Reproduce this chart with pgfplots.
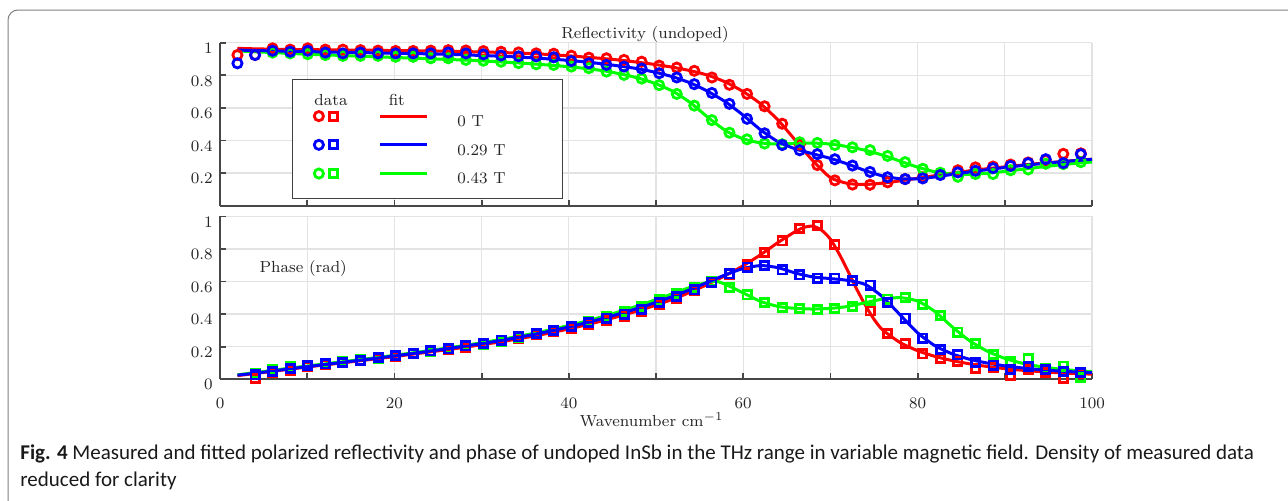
\documentclass[border=0pt]{standalone}
\usepackage{fontspec}
\usepackage{pgfplots}
\usepackage{pgfplotstable}
\pgfplotsset{compat=1.18}
\newfontfamily\capfont{Carlito}
\newcommand\fs{\fontsize{8}{9.6}\selectfont}
\definecolor{cR}{RGB}{255,0,0}
\definecolor{cB}{RGB}{0,0,255}
\definecolor{cG}{RGB}{0,255,0}

\pgfplotstableread{
x R G B
2.00 0.925 nan 0.874
4.02 0.925 nan 0.925
6.03 0.966 0.940 0.951
8.05 0.958 0.935 0.945
10.06 0.966 0.930 0.951
12.08 0.958 0.925 0.940
14.09 0.958 0.920 0.935
16.11 0.955 0.920 0.940
18.12 0.952 0.920 0.935
20.14 0.950 0.914 0.935
22.15 0.950 0.914 0.935
24.17 0.952 0.905 0.935
26.18 0.955 0.905 0.940
28.20 0.953 0.895 0.935
30.21 0.949 0.890 0.929
32.23 0.945 0.884 0.922
34.24 0.941 0.875 0.917
36.26 0.935 0.868 0.917
38.27 0.933 0.864 0.911
40.29 0.921 0.854 0.888
42.30 0.909 0.844 0.874
44.32 0.905 0.823 0.864
46.33 0.895 0.803 0.854
48.35 0.884 0.780 0.842
50.36 0.860 0.740 0.813
52.38 0.848 0.686 0.787
54.39 0.828 0.614 0.746
56.41 0.787 0.525 0.692
58.42 0.742 0.448 0.625
60.44 0.686 0.407 0.533
62.45 0.610 0.381 0.444
64.47 0.503 0.377 0.372
66.48 0.375 0.389 0.340
68.50 0.249 0.385 0.316
70.51 0.155 0.372 0.285
72.53 0.129 0.358 0.246
74.54 0.128 0.341 0.207
76.56 0.143 0.305 0.174
78.57 0.163 0.267 0.163
80.59 0.174 0.226 0.167
82.60 0.194 0.202 0.188
84.62 0.217 0.177 0.204
86.63 0.235 0.194 0.214
88.65 0.240 0.194 0.230
90.66 0.252 0.217 0.244
92.68 0.265 0.222 0.261
94.69 0.280 0.257 0.285
96.71 0.318 0.255 0.261
98.72 0.321 0.267 0.316
}\refldata

\pgfplotstableread{
x R G B
4.02 0.005 0.035 0.026
6.03 0.040 0.060 0.046
8.05 0.055 0.075 0.067
10.06 0.075 0.085 0.083
12.08 0.090 0.098 0.094
14.09 0.100 0.110 0.102
16.11 0.112 0.118 0.114
18.12 0.128 0.130 0.132
20.14 0.138 0.145 0.145
22.15 0.155 0.160 0.159
24.17 0.170 0.168 0.174
26.18 0.182 0.190 0.186
28.20 0.195 0.210 0.204
30.21 0.215 0.215 0.221
32.23 0.232 0.232 0.240
34.24 0.250 0.255 0.260
36.26 0.275 0.278 0.282
38.27 0.290 0.300 0.300
40.29 0.312 0.325 0.323
42.30 0.338 0.355 0.350
44.32 0.360 0.385 0.375
46.33 0.388 0.415 0.400
48.35 0.418 0.445 0.430
50.36 0.460 0.487 0.472
52.38 0.498 0.525 0.508
54.39 0.543 0.566 0.549
56.41 0.594 0.600 0.596
58.42 0.646 0.563 0.647
60.44 0.703 0.518 0.689
62.45 0.778 0.471 0.699
64.47 0.850 0.442 0.672
66.48 0.924 0.436 0.641
68.50 0.943 0.430 0.621
70.51 0.826 0.436 0.621
72.53 0.604 0.446 0.604
74.54 0.420 0.483 0.578
76.56 0.282 0.492 0.473
78.57 0.220 0.501 0.375
80.59 0.155 0.461 0.252
82.60 0.127 0.391 0.184
84.62 0.108 0.289 0.149
86.63 0.067 0.221 0.102
88.65 0.073 0.153 0.087
90.66 0.023 0.108 0.061
92.68 0.061 0.129 0.077
94.69 0.040 0.067 0.061
96.71 0.003 0.081 0.046
98.72 0.033 0.009 0.040
}\phasedata

\pgfplotsset{
  myax/.style={
    scale only axis, width=436pt, height=81.4pt,
    xmin=0, xmax=100, ymin=0, ymax=1,
    axis x line*=bottom, axis y line*=left,
    axis line style={draw=black!72, line width=0.9pt},
    grid=major, major grid style={draw=black!11, line width=0.6pt},
    xtick={0,10,...,100},
    tick align=inside, major tick length=3pt,
    tick style={draw=black!72, line width=0.9pt},
    tick label style={font=\fs, text=black!85},
    yticklabel style={anchor=east, inner sep=0pt, xshift=-3.5pt, yshift=-2.8pt},
    xticklabel style={anchor=north, inner sep=0pt, yshift=-8.9pt},
    every axis title shift=0pt,
    clip=false,
  },
  dR/.style={draw=cR, only marks, line width=1.4pt},
  dG/.style={draw=cG, only marks, line width=1.4pt},
  dB/.style={draw=cB, only marks, line width=1.4pt},
  fR/.style={draw=cR, line width=1.5pt, no marks, smooth, tension=0.4},
  fG/.style={draw=cG, line width=1.5pt, no marks, smooth, tension=0.4},
  fB/.style={draw=cB, line width=1.5pt, no marks, smooth, tension=0.4},
}

\begin{document}
\begin{tikzpicture}
\useasboundingbox (0,0) rectangle (644pt,250pt);
\draw[black!50, line width=0.5pt, rounded corners=5pt] (4pt,-20pt) rectangle (700pt,245pt);

% ---------- top panel ----------
\begin{axis}[myax, at={(110pt,147.2pt)}, anchor=south west,
  ytick={0.2,0.4,0.6,0.8,1}, xticklabels={},
  title={Reflectivity (undoped)},
  title style={at={(axis description cs:0.4874,1)}, anchor=base, yshift=2.2pt, inner sep=0pt, font=\fs, text=black!85},
  legend style={at={(0.0822,0.778)}, anchor=north west, inner sep=0pt, draw=black!75, line width=0.6pt, fill=white,
    nodes={inner sep=0pt, text depth=0pt}, column sep=0pt, row sep=0pt},
]
\addlegendimage{legend image code/.code={
  \path (-10.5pt,18pt) (123.15pt,-6.875pt);
  \node[anchor=west,inner sep=0pt,font=\fs,text=black!85] at (0pt,8pt) {data};
  \node[anchor=west,inner sep=0pt,font=\fs,text=black!85] at (37.15pt,8pt) {fit};
  \draw[cR, line width=1.4pt] (2.5pt,0pt) circle (2.3pt);
  \draw[cR, line width=1.4pt] (7.9pt,-2pt) rectangle (11.9pt,2pt);
  \draw[cR, line width=1.5pt] (33.15pt,0pt) -- (56.65pt,0pt);
  \node[anchor=west,inner sep=0pt,font=\fs,text=black!85] at (71.5pt,-2.5pt) {0 T};
}}
\addlegendentry{}
\addlegendimage{legend image code/.code={
  \path (-10.5pt,6.875pt) (123.15pt,-6.875pt);
  \draw[cB, line width=1.4pt] (2.5pt,0pt) circle (2.3pt);
  \draw[cB, line width=1.4pt] (7.9pt,-2pt) rectangle (11.9pt,2pt);
  \draw[cB, line width=1.5pt] (33.15pt,0pt) -- (56.65pt,0pt);
  \node[anchor=west,inner sep=0pt,font=\fs,text=black!85] at (71.5pt,-2.5pt) {0.29 T};
}}
\addlegendentry{}
\addlegendimage{legend image code/.code={
  \path (-10.5pt,6.875pt) (123.15pt,-12pt);
  \draw[cG, line width=1.4pt] (2.5pt,0pt) circle (2.3pt);
  \draw[cG, line width=1.4pt] (7.9pt,-2pt) rectangle (11.9pt,2pt);
  \draw[cG, line width=1.5pt] (33.15pt,0pt) -- (56.65pt,0pt);
  \node[anchor=west,inner sep=0pt,font=\fs,text=black!85] at (71.5pt,-2.5pt) {0.43 T};
}}
\addlegendentry{}

\addplot[fR, forget plot] coordinates {(2,0.966)(4,0.963)(6,0.961)(8,0.959)(10,0.958)(12,0.957)(14,0.956)(16,0.955)(18,0.954)(20,0.952)(22,0.951)(24,0.950)(26,0.948)(28,0.946)(30,0.944)(32,0.941)(34,0.937)(36,0.933)(38,0.927)(40,0.920)(42,0.912)(44,0.903)(46,0.893)(48,0.880)(50,0.866)(52,0.849)(54,0.828)(56,0.800)(58,0.758)(60,0.700)(62,0.625)(64,0.525)(66,0.400)(68,0.275)(70,0.172)(72,0.136)(74,0.130)(76,0.138)(78,0.152)(80,0.168)(82,0.184)(84,0.200)(86,0.214)(88,0.227)(90,0.238)(92,0.249)(94,0.259)(96,0.268)(98,0.277)(100,0.285)};
\addplot[dR, mark=o, mark size=2.3pt, forget plot] table[x=x, y=R] {\refldata};
\addplot[fG, forget plot] coordinates {(2,0.950)(4,0.945)(6,0.940)(8,0.935)(10,0.930)(12,0.926)(14,0.922)(16,0.918)(18,0.914)(20,0.910)(22,0.906)(24,0.902)(26,0.898)(28,0.894)(30,0.889)(32,0.883)(34,0.877)(36,0.870)(38,0.862)(40,0.853)(42,0.842)(44,0.828)(46,0.808)(48,0.783)(50,0.748)(52,0.700)(54,0.630)(56,0.540)(58,0.460)(60,0.410)(62,0.385)(64,0.378)(66,0.382)(68,0.384)(70,0.378)(72,0.362)(74,0.340)(76,0.310)(78,0.273)(80,0.236)(82,0.208)(84,0.193)(86,0.192)(88,0.199)(90,0.210)(92,0.223)(94,0.236)(96,0.248)(98,0.259)(100,0.268)};
\addplot[dG, mark=o, mark size=2.3pt, forget plot] table[x=x, y=G] {\refldata};
\addplot[fB, forget plot] coordinates {(2,0.955)(4,0.953)(6,0.950)(8,0.948)(10,0.946)(12,0.944)(14,0.942)(16,0.940)(18,0.938)(20,0.936)(22,0.934)(24,0.932)(26,0.929)(28,0.926)(30,0.922)(32,0.918)(34,0.913)(36,0.907)(38,0.900)(40,0.892)(42,0.882)(44,0.870)(46,0.856)(48,0.840)(50,0.818)(52,0.790)(54,0.752)(56,0.700)(58,0.636)(60,0.555)(62,0.465)(64,0.392)(66,0.348)(68,0.318)(70,0.290)(72,0.255)(74,0.215)(76,0.182)(78,0.165)(80,0.165)(82,0.176)(84,0.192)(86,0.207)(88,0.221)(90,0.234)(92,0.246)(94,0.257)(96,0.267)(98,0.276)(100,0.284)};
\addplot[dB, mark=o, mark size=2.3pt, forget plot] table[x=x, y=B] {\refldata};
\end{axis}

% ---------- bottom panel ----------
\begin{axis}[myax, at={(110pt,60.4pt)}, anchor=south west,
  ytick={0,0.2,0.4,0.6,0.8,1},
  xticklabels={0,,20,,40,,60,,80,,100},
  xlabel={Wavenumber cm$^{-1}$},
  xlabel style={at={(axis description cs:0.495,0)}, anchor=center, yshift=-20.4pt, inner sep=0pt, font=\fs, text=black!85},
]
\node[anchor=west, inner sep=0pt, font=\fs, text=black!85] at (axis cs:4.5,0.68) {Phase (rad)};
\addplot[fR] coordinates {(2,0.022)(4,0.035)(6,0.048)(8,0.062)(10,0.075)(12,0.088)(14,0.100)(16,0.113)(18,0.126)(20,0.139)(22,0.153)(24,0.167)(26,0.181)(28,0.196)(30,0.212)(32,0.228)(34,0.246)(36,0.265)(38,0.286)(40,0.309)(42,0.334)(44,0.361)(46,0.390)(48,0.421)(50,0.455)(52,0.493)(54,0.536)(56,0.585)(58,0.638)(60,0.697)(62,0.765)(64,0.840)(66,0.908)(67,0.933)(68,0.940)(69,0.915)(70,0.860)(71,0.770)(72,0.665)(73,0.555)(74,0.455)(75,0.368)(76,0.302)(78,0.225)(80,0.175)(82,0.140)(84,0.114)(86,0.094)(88,0.078)(90,0.065)(92,0.055)(94,0.047)(96,0.040)(98,0.035)(100,0.031)};
\addplot[dR, mark=square, mark size=2.05pt] table[x=x, y=R] {\phasedata};
\addplot[fG] coordinates {(2,0.027)(4,0.040)(6,0.054)(8,0.068)(10,0.081)(12,0.094)(14,0.107)(16,0.120)(18,0.133)(20,0.147)(22,0.161)(24,0.176)(26,0.191)(28,0.207)(30,0.224)(32,0.242)(34,0.261)(36,0.282)(38,0.305)(40,0.330)(42,0.357)(44,0.386)(46,0.418)(48,0.452)(50,0.489)(52,0.527)(54,0.566)(56,0.597)(57,0.600)(58,0.582)(60,0.530)(62,0.478)(64,0.447)(66,0.435)(68,0.431)(70,0.435)(72,0.447)(74,0.470)(76,0.492)(78,0.501)(80,0.480)(82,0.415)(84,0.320)(86,0.235)(88,0.172)(90,0.128)(92,0.098)(94,0.078)(96,0.064)(98,0.054)(100,0.047)};
\addplot[dG, mark=square, mark size=2.05pt] table[x=x, y=G] {\phasedata};
\addplot[fB] coordinates {(2,0.025)(4,0.037)(6,0.050)(8,0.064)(10,0.077)(12,0.090)(14,0.103)(16,0.116)(18,0.129)(20,0.143)(22,0.157)(24,0.172)(26,0.187)(28,0.203)(30,0.219)(32,0.236)(34,0.255)(36,0.275)(38,0.297)(40,0.321)(42,0.347)(44,0.375)(46,0.405)(48,0.437)(50,0.472)(52,0.510)(54,0.552)(56,0.597)(58,0.642)(60,0.680)(62,0.698)(64,0.685)(66,0.652)(68,0.628)(70,0.618)(72,0.607)(74,0.582)(76,0.505)(78,0.395)(80,0.285)(82,0.205)(84,0.155)(86,0.122)(88,0.099)(90,0.082)(92,0.069)(94,0.059)(96,0.051)(98,0.045)(100,0.040)};
\addplot[dB, mark=square, mark size=2.05pt] table[x=x, y=B] {\phasedata};
\end{axis}

% ---------- caption ----------
\node[anchor=base west, inner sep=0pt, font=\capfont\fontsize{10.5}{12}\selectfont, text=black!90] at (10pt,20.25pt)
  {\textbf{Fig. 4} Measured and fitted polarized reflectivity and phase of undoped InSb in the THz range in variable magnetic field. Density of measured data};
\node[anchor=base west, inner sep=0pt, font=\capfont\fontsize{10.5}{12}\selectfont, text=black!90] at (10pt,6.75pt)
  {reduced for clarity};
\end{tikzpicture}
\end{document}
